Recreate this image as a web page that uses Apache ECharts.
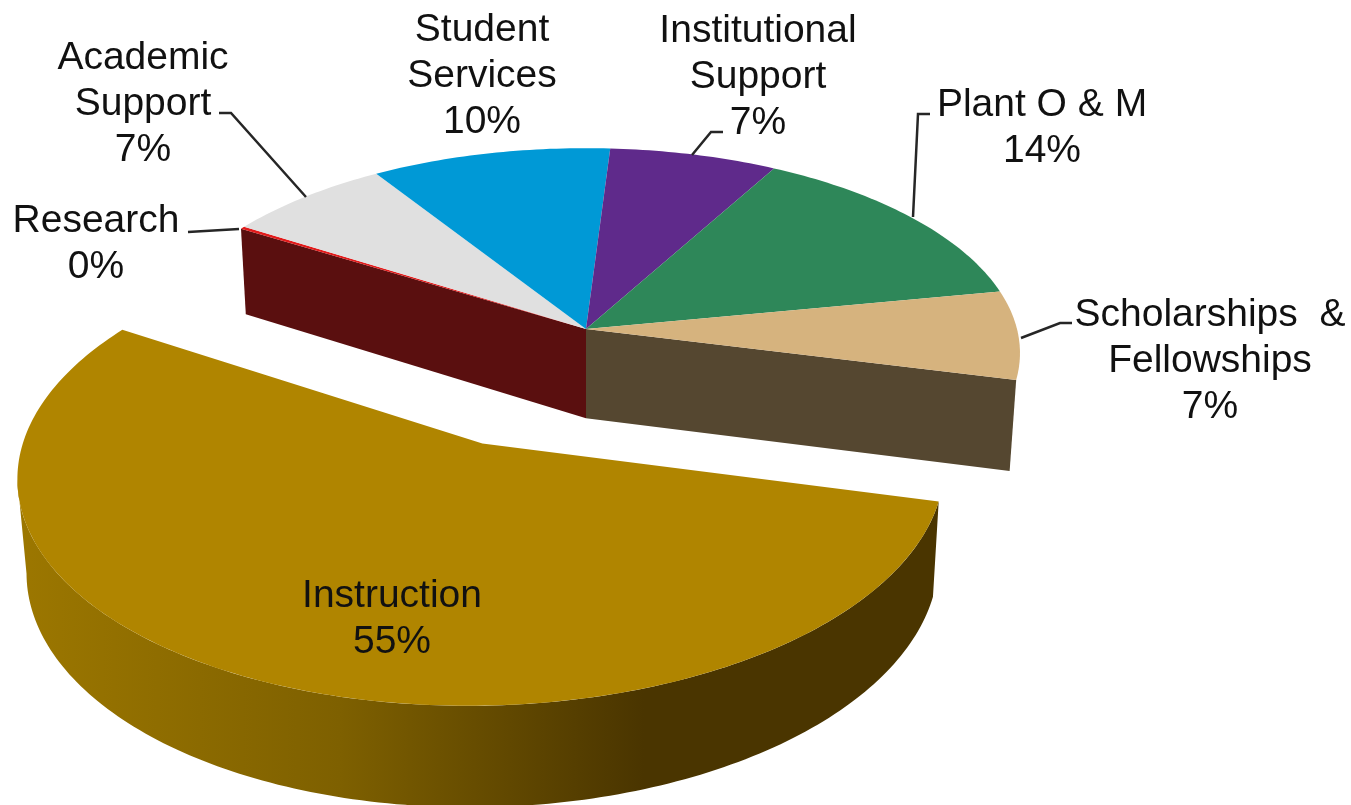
<!DOCTYPE html>
<html>
<head>
<meta charset="utf-8">
<title>Expenditure shares</title>
<style>
  html, body { margin: 0; padding: 0; background: #ffffff; }
  #chart { width: 1351px; height: 805px; }
</style>
<script src="https://cdn.jsdelivr.net/npm/echarts@6/dist/echarts.min.js"></script>
</head>
<body>
<div id="chart"></div>
<script>
// Slices, clockwise from the start angle
const categories = ['Instruction', 'Research', 'Academic\nSupport', 'Student\nServices',
  'Institutional\nSupport', 'Plant O & M', 'Scholarships  &\nFellowships'];
const shares = [55, 0.2, 7, 10, 7, 14, 7];
const topColors = ['#B08500', '#E21B1B', '#E0E0E0', '#0099D6', '#5F2A8B', '#2E8759', '#D6B37E'];
const sideColors = ['#4A3500', '#5A0F0F', '#7A7A7A', '#005577', '#35174D', '#194B31', '#554730'];
const explodedCategory = 'Instruction';

// Where each label block is centred and how its leader line runs
const labelCentres = [[392, 619], [96, 244], [143, 104], [482, 76], [758, 77], [1042, 128], [1210, 361]];
const leaderLines = [
  null,
  [[188, 232], [239, 229]],
  [[219, 113], [231, 113], [306, 197]],
  null,
  [[723, 132], [711, 132], [692, 155]],
  [[930, 114], [918, 114], [913, 217]],
  [[1072, 323], [1060, 323], [1021, 338]]
];

// Perspective view of the tilted pie
const view = { cx: 586, cy: 329, rx: 431, ry: 202, tilt: 0.117, depth: 90.5, shrink: 0.015 };
const startDeg = 14.2;
const explodeDistance = 0.577;

function project(u, v, z) {
  const s = 1 / (1 - view.tilt * v + view.shrink * z);
  return [view.cx + view.rx * u * s, view.cy + (view.ry * v + view.depth * z) * s];
}

const total = shares.reduce((a, b) => a + b, 0);
const spans = [];
shares.reduce((from, value) => {
  const to = from + value / total * 360;
  spans.push([from, to]);
  return to;
}, startDeg);

function arc(from, to, ou, ov, z) {
  const pts = [];
  const steps = Math.max(2, Math.ceil(Math.abs(to - from)));
  for (let j = 0; j <= steps; j++) {
    const a = (from + (to - from) * j / steps) * Math.PI / 180;
    pts.push(project(ou + Math.cos(a), ov + Math.sin(a), z));
  }
  return pts;
}

// Angle at which the slice's rim turns away from the viewer on the left
function rimLimit(from, to, ou, ov) {
  let best = from, bestX = Infinity;
  for (let d = from; d <= to; d += 0.25) {
    const a = d * Math.PI / 180;
    const x = project(ou + Math.cos(a), ov + Math.sin(a), 0)[0];
    if (x < bestX) { bestX = x; best = d; }
  }
  return best;
}

function renderSlice(params, api) {
  const i = api.value(0);
  const [from, to] = spans[i];
  const exploded = categories[i] === explodedCategory;
  const mid = (from + to) / 2 * Math.PI / 180;
  const ou = exploded ? explodeDistance * Math.cos(mid) : 0;
  const ov = exploded ? explodeDistance * Math.sin(mid) : 0;
  const lift = exploded ? 10 : 0;
  const children = [];

  // Outer rim of the pulled-out slice
  if (exploded) {
    const end = rimLimit(from, to, ou, ov);
    children.push({
      type: 'polygon', z2: 1 + lift,
      shape: { points: arc(from, end, ou, ov, 0).concat(arc(end, from, ou, ov, 1)) },
      style: {
        fill: new echarts.graphic.LinearGradient(0, 0, 1, 0, [
          { offset: 0, color: '#9C7700' },
          { offset: 0.35, color: '#7E6000' },
          { offset: 0.68, color: '#4A3500' },
          { offset: 1, color: '#4A3500' }
        ])
      }
    });
  }

  // Cut faces exposed by the pulled-out slice
  const explodedIndex = categories.indexOf(explodedCategory);
  const count = categories.length;
  const faces = [];
  if (!exploded && i === (explodedIndex + 1) % count) faces.push(from);
  if (!exploded && i === (explodedIndex - 1 + count) % count) faces.push(to);
  faces.forEach(deg => {
    const a = deg * Math.PI / 180;
    const c = Math.cos(a), s = Math.sin(a);
    children.push({
      type: 'polygon', z2: 2,
      shape: { points: [project(0, 0, 0), project(c, s, 0), project(c, s, 1), project(0, 0, 1)] },
      style: { fill: sideColors[i] }
    });
  });

  // Top surface
  children.push({
    type: 'polygon', z2: 3 + lift,
    shape: { points: [project(ou, ov, 0)].concat(arc(from, to, ou, ov, 0)) },
    style: { fill: topColors[i] }
  });

  if (leaderLines[i]) {
    children.push({
      type: 'polyline', z2: 30,
      shape: { points: leaderLines[i] },
      style: { fill: null, stroke: '#262626', lineWidth: 2.5 }
    });
  }

  children.push({
    type: 'text', z2: 31,
    x: labelCentres[i][0], y: labelCentres[i][1],
    style: {
      text: categories[i] + '\n' + Math.round(api.value(1)) + '%',
      font: '39px "Liberation Sans", Arial, sans-serif',
      lineHeight: 46, align: 'center', verticalAlign: 'middle', fill: '#111111'
    }
  });

  return { type: 'group', children: children };
}

const chart = echarts.init(document.getElementById('chart'), null, { renderer: 'canvas' });
chart.setOption({
  animation: false,
  backgroundColor: '#ffffff',
  series: [{
    type: 'custom',
    coordinateSystem: 'none',
    renderItem: renderSlice,
    data: shares.map((value, index) => [index, value])
  }]
});
</script>
</body>
</html>
